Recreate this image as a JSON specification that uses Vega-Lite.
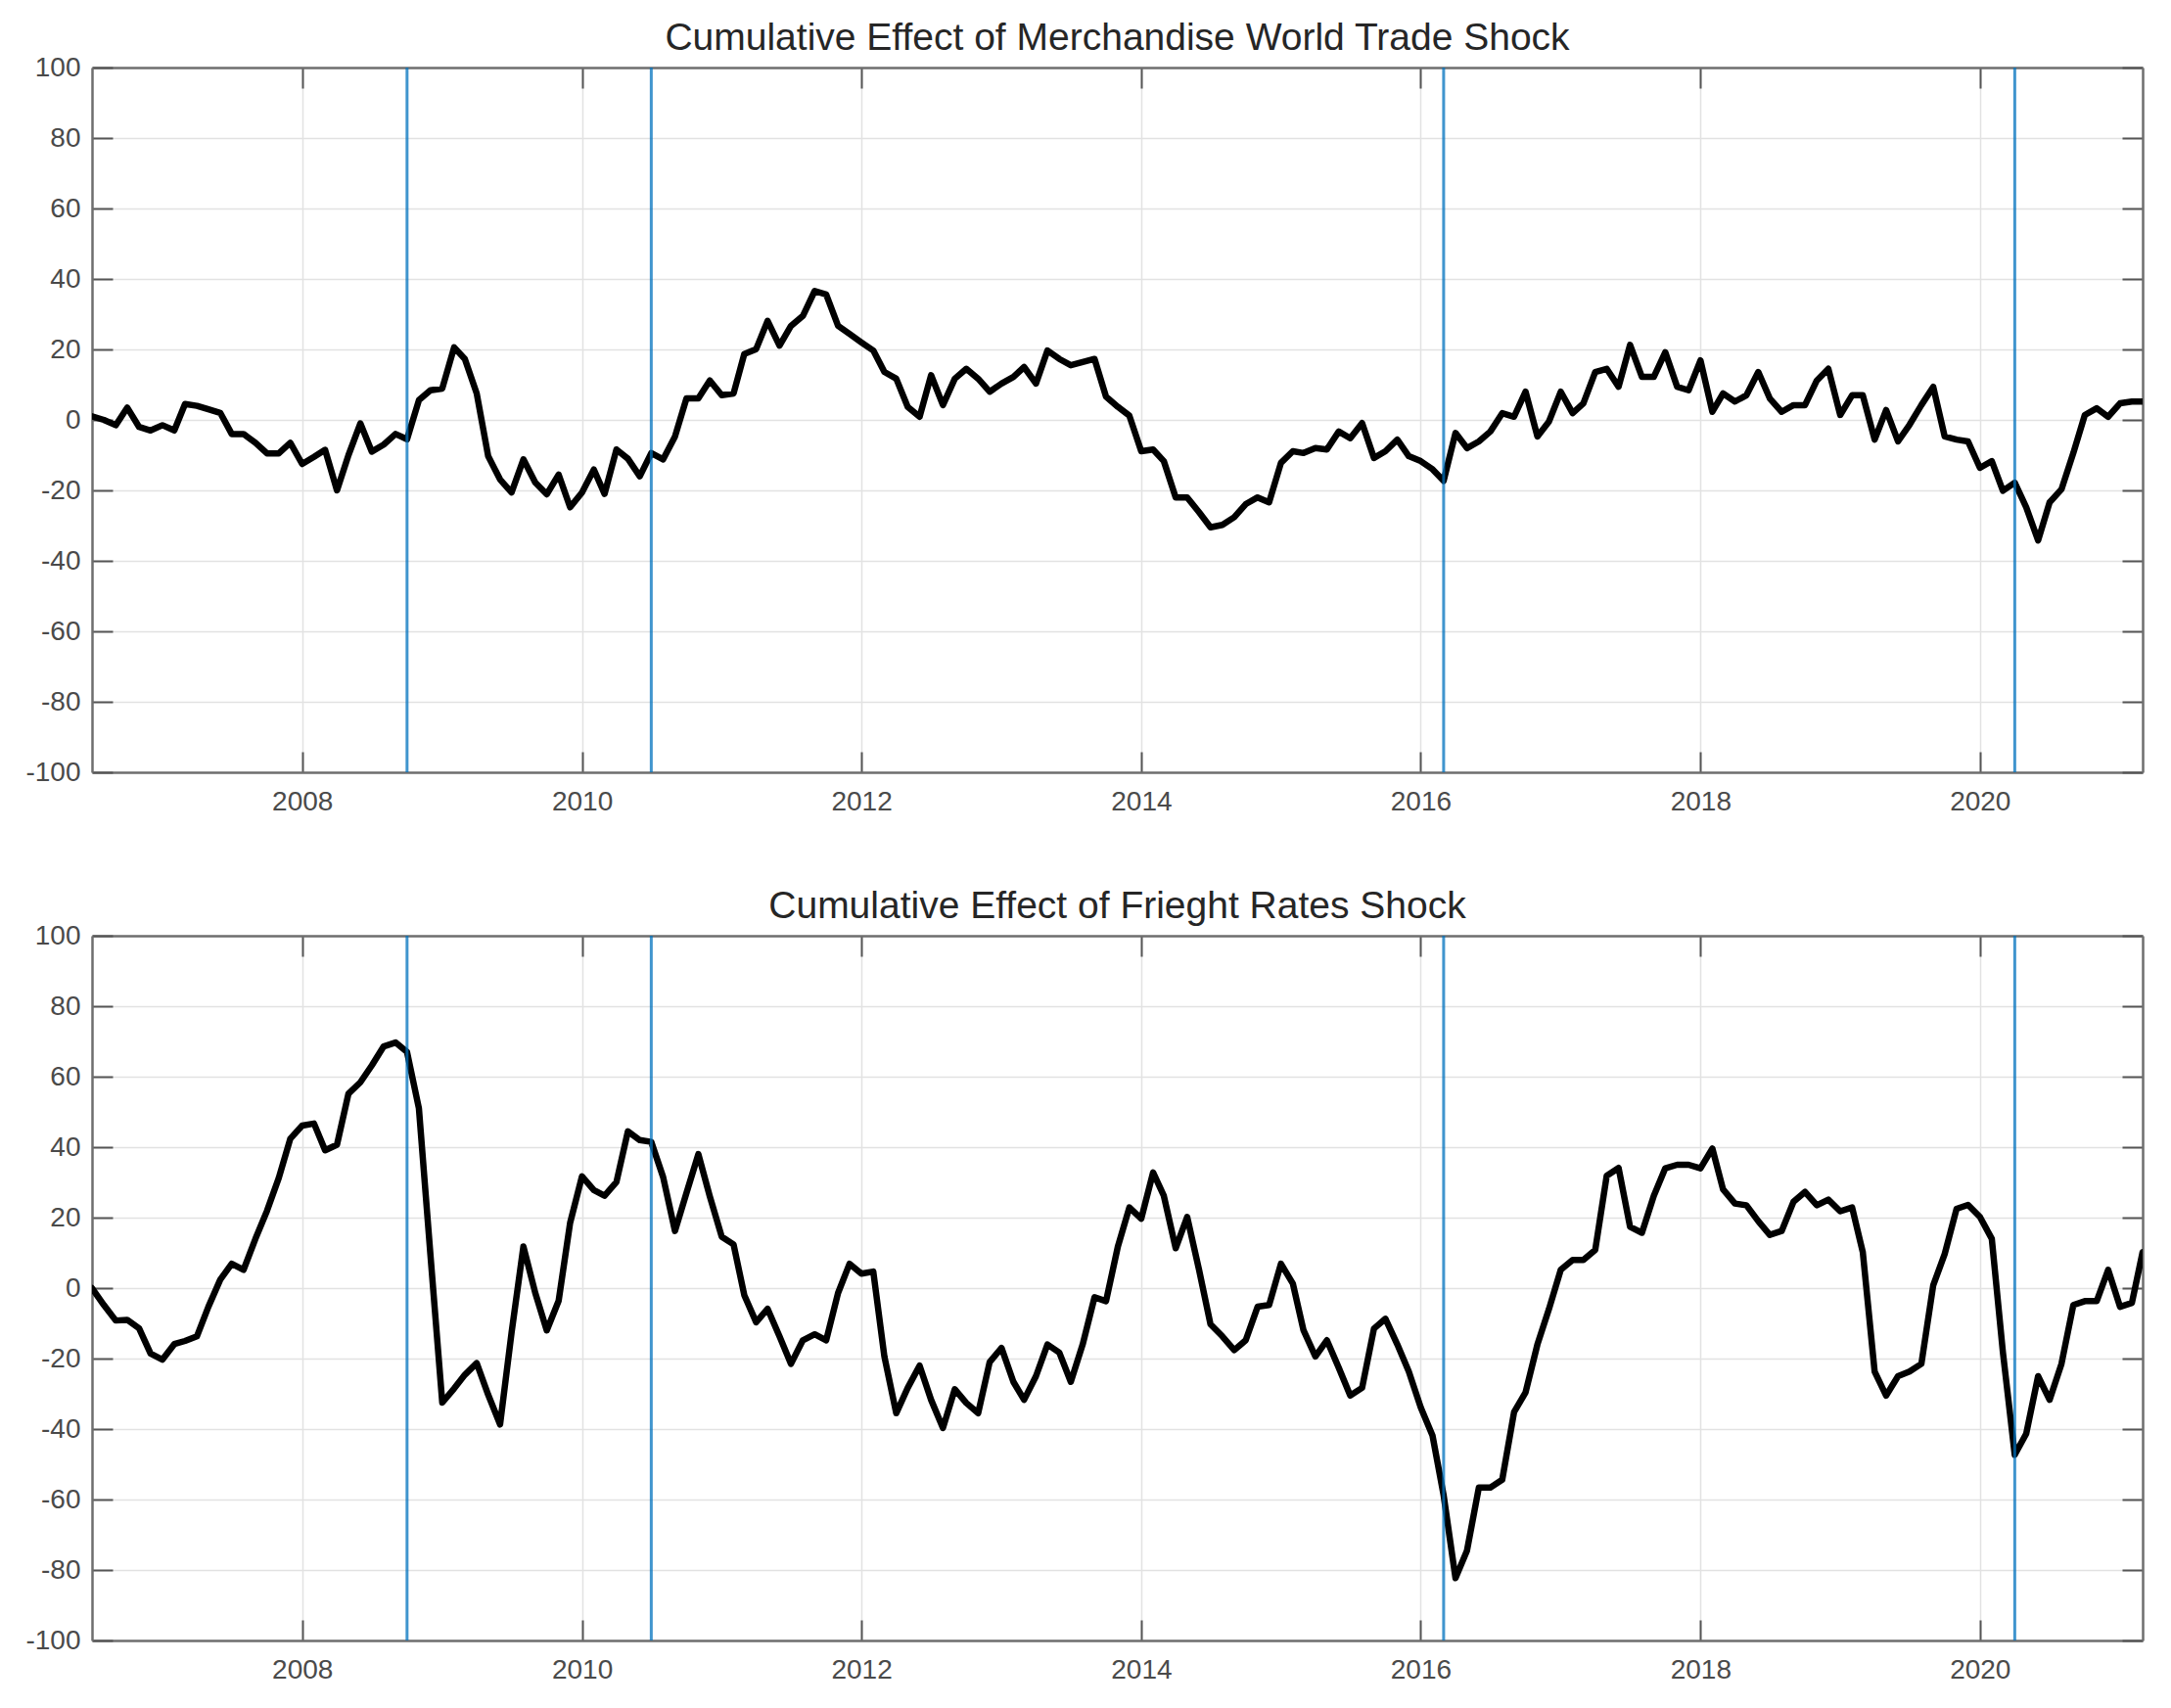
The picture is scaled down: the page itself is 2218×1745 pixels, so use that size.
{
  "$schema": "https://vega.github.io/schema/vega-lite/v6.json",
  "background": "white",
  "padding": {"left": 25, "top": 20, "right": 10, "bottom": 10},
  "datasets": {
    "series": [
      {"date": "2006-07-01", "trade": 1, "freight": 0},
      {"date": "2006-08-01", "trade": 0, "freight": -4.8},
      {"date": "2006-09-01", "trade": -1.5, "freight": -9.2},
      {"date": "2006-10-01", "trade": 3.5, "freight": -9},
      {"date": "2006-11-01", "trade": -2, "freight": -11.4},
      {"date": "2006-12-01", "trade": -3, "freight": -18.6},
      {"date": "2007-01-01", "trade": -1.5, "freight": -20.3},
      {"date": "2007-02-01", "trade": -3, "freight": -15.9},
      {"date": "2007-03-01", "trade": 4.5, "freight": -15},
      {"date": "2007-04-01", "trade": 4, "freight": -13.7},
      {"date": "2007-05-01", "trade": 3, "freight": -5.3},
      {"date": "2007-06-01", "trade": 2, "freight": 2.4},
      {"date": "2007-07-01", "trade": -4, "freight": 6.9},
      {"date": "2007-08-01", "trade": -4, "freight": 5.2},
      {"date": "2007-09-01", "trade": -6.5, "freight": 14},
      {"date": "2007-10-01", "trade": -9.5, "freight": 21.9},
      {"date": "2007-11-01", "trade": -9.5, "freight": 31.3},
      {"date": "2007-12-01", "trade": -6.5, "freight": 42.4},
      {"date": "2008-01-01", "trade": -12.5, "freight": 46.1},
      {"date": "2008-02-01", "trade": -10.5, "freight": 46.7},
      {"date": "2008-03-01", "trade": -8.5, "freight": 39.1},
      {"date": "2008-04-01", "trade": -20, "freight": 40.7},
      {"date": "2008-05-01", "trade": -10, "freight": 55.2},
      {"date": "2008-06-01", "trade": -1, "freight": 58.4},
      {"date": "2008-07-01", "trade": -9, "freight": 63.2},
      {"date": "2008-08-01", "trade": -7, "freight": 68.6},
      {"date": "2008-09-01", "trade": -4, "freight": 69.7},
      {"date": "2008-10-01", "trade": -5.5, "freight": 67},
      {"date": "2008-11-01", "trade": 5.6, "freight": 51},
      {"date": "2008-12-01", "trade": 8.4, "freight": 9.6},
      {"date": "2009-01-01", "trade": 8.9, "freight": -32.5},
      {"date": "2009-02-01", "trade": 20.6, "freight": -28.5},
      {"date": "2009-03-01", "trade": 17.3, "freight": -24.6},
      {"date": "2009-04-01", "trade": 7.5, "freight": -21.3},
      {"date": "2009-05-01", "trade": -10.3, "freight": -30.3},
      {"date": "2009-06-01", "trade": -16.9, "freight": -38.7},
      {"date": "2009-07-01", "trade": -20.6, "freight": -12.7},
      {"date": "2009-08-01", "trade": -11.2, "freight": 11.8},
      {"date": "2009-09-01", "trade": -17.8, "freight": -1.4},
      {"date": "2009-10-01", "trade": -21.1, "freight": -12},
      {"date": "2009-11-01", "trade": -15.5, "freight": -3.6},
      {"date": "2009-12-01", "trade": -24.8, "freight": 18.5},
      {"date": "2010-01-01", "trade": -20.6, "freight": 31.7},
      {"date": "2010-02-01", "trade": -14.1, "freight": 27.8},
      {"date": "2010-03-01", "trade": -21, "freight": 26.2},
      {"date": "2010-04-01", "trade": -8.4, "freight": 30.1},
      {"date": "2010-05-01", "trade": -11, "freight": 44.5},
      {"date": "2010-06-01", "trade": -16, "freight": 42},
      {"date": "2010-07-01", "trade": -9.4, "freight": 41.5},
      {"date": "2010-08-01", "trade": -11.2, "freight": 31.5},
      {"date": "2010-09-01", "trade": -4.7, "freight": 16.2},
      {"date": "2010-10-01", "trade": 6.1, "freight": 27},
      {"date": "2010-11-01", "trade": 6.1, "freight": 38},
      {"date": "2010-12-01", "trade": 11.2, "freight": 26},
      {"date": "2011-01-01", "trade": 7, "freight": 14.6},
      {"date": "2011-02-01", "trade": 7.5, "freight": 12.4},
      {"date": "2011-03-01", "trade": 18.7, "freight": -2},
      {"date": "2011-04-01", "trade": 20.1, "freight": -9.7},
      {"date": "2011-05-01", "trade": 28.1, "freight": -5.9},
      {"date": "2011-06-01", "trade": 21.1, "freight": -13.7},
      {"date": "2011-07-01", "trade": 26.7, "freight": -21.5},
      {"date": "2011-08-01", "trade": 29.5, "freight": -14.8},
      {"date": "2011-09-01", "trade": 36.6, "freight": -13.1},
      {"date": "2011-10-01", "trade": 35.6, "freight": -14.8},
      {"date": "2011-11-01", "trade": 26.7, "freight": -1.4},
      {"date": "2011-12-01", "trade": 24.4, "freight": 6.9},
      {"date": "2012-01-01", "trade": 22, "freight": 4.1},
      {"date": "2012-02-01", "trade": 19.7, "freight": 4.7},
      {"date": "2012-03-01", "trade": 13.6, "freight": -19.4},
      {"date": "2012-04-01", "trade": 11.7, "freight": -35.5},
      {"date": "2012-05-01", "trade": 3.7, "freight": -28.3},
      {"date": "2012-06-01", "trade": 0.9, "freight": -22},
      {"date": "2012-07-01", "trade": 12.7, "freight": -31.7},
      {"date": "2012-08-01", "trade": 4.2, "freight": -39.7},
      {"date": "2012-09-01", "trade": 11.7, "freight": -28.7},
      {"date": "2012-10-01", "trade": 14.5, "freight": -32.6},
      {"date": "2012-11-01", "trade": 11.7, "freight": -35.5},
      {"date": "2012-12-01", "trade": 8, "freight": -21},
      {"date": "2013-01-01", "trade": 10.3, "freight": -17},
      {"date": "2013-02-01", "trade": 12.2, "freight": -26.6},
      {"date": "2013-03-01", "trade": 15, "freight": -31.7},
      {"date": "2013-04-01", "trade": 10.3, "freight": -25},
      {"date": "2013-05-01", "trade": 19.7, "freight": -16},
      {"date": "2013-06-01", "trade": 17.3, "freight": -18.3},
      {"date": "2013-07-01", "trade": 15.5, "freight": -26.6},
      {"date": "2013-08-01", "trade": 16.4, "freight": -16},
      {"date": "2013-09-01", "trade": 17.3, "freight": -2.6},
      {"date": "2013-10-01", "trade": 6.6, "freight": -3.7},
      {"date": "2013-11-01", "trade": 3.7, "freight": 11.8},
      {"date": "2013-12-01", "trade": 1.2, "freight": 22.9},
      {"date": "2014-01-01", "trade": -8.9, "freight": 19.7},
      {"date": "2014-02-01", "trade": -8.4, "freight": 32.8},
      {"date": "2014-03-01", "trade": -11.7, "freight": 26.2},
      {"date": "2014-04-01", "trade": -22, "freight": 11.3},
      {"date": "2014-05-01", "trade": -22, "freight": 20.2},
      {"date": "2014-06-01", "trade": -26.2, "freight": 5.2},
      {"date": "2014-07-01", "trade": -30.5, "freight": -10.3},
      {"date": "2014-08-01", "trade": -29.8, "freight": -13.7},
      {"date": "2014-09-01", "trade": -27.6, "freight": -17.6},
      {"date": "2014-10-01", "trade": -23.9, "freight": -14.8},
      {"date": "2014-11-01", "trade": -22, "freight": -5.3},
      {"date": "2014-12-01", "trade": -23.4, "freight": -4.8},
      {"date": "2015-01-01", "trade": -12.2, "freight": 6.9},
      {"date": "2015-02-01", "trade": -8.9, "freight": 1.3},
      {"date": "2015-03-01", "trade": -9.4, "freight": -12},
      {"date": "2015-04-01", "trade": -8, "freight": -19.4},
      {"date": "2015-05-01", "trade": -8.4, "freight": -14.8},
      {"date": "2015-06-01", "trade": -3.3, "freight": -22.6},
      {"date": "2015-07-01", "trade": -5.2, "freight": -30.5},
      {"date": "2015-08-01", "trade": -0.9, "freight": -28.3},
      {"date": "2015-09-01", "trade": -10.8, "freight": -11.5},
      {"date": "2015-10-01", "trade": -8.9, "freight": -8.7},
      {"date": "2015-11-01", "trade": -5.6, "freight": -16},
      {"date": "2015-12-01", "trade": -10.3, "freight": -23.7},
      {"date": "2016-01-01", "trade": -11.7, "freight": -33.8},
      {"date": "2016-02-01", "trade": -14, "freight": -41.9},
      {"date": "2016-03-01", "trade": -17.3, "freight": -58.8},
      {"date": "2016-04-01", "trade": -3.7, "freight": -82.3},
      {"date": "2016-05-01", "trade": -8, "freight": -74.5},
      {"date": "2016-06-01", "trade": -6.1, "freight": -56.6},
      {"date": "2016-07-01", "trade": -3.3, "freight": -56.6},
      {"date": "2016-08-01", "trade": 1.9, "freight": -54.4},
      {"date": "2016-09-01", "trade": 0.9, "freight": -35.2},
      {"date": "2016-10-01", "trade": 8, "freight": -29.6},
      {"date": "2016-11-01", "trade": -4.7, "freight": -16},
      {"date": "2016-12-01", "trade": -0.5, "freight": -6},
      {"date": "2017-01-01", "trade": 8, "freight": 5.2},
      {"date": "2017-02-01", "trade": 1.9, "freight": 8},
      {"date": "2017-03-01", "trade": 4.7, "freight": 8},
      {"date": "2017-04-01", "trade": 13.6, "freight": 10.8},
      {"date": "2017-05-01", "trade": 14.5, "freight": 31.9},
      {"date": "2017-06-01", "trade": 9.4, "freight": 34.1},
      {"date": "2017-07-01", "trade": 21.3, "freight": 17.4},
      {"date": "2017-08-01", "trade": 12.2, "freight": 15.7},
      {"date": "2017-09-01", "trade": 12.2, "freight": 26.2},
      {"date": "2017-10-01", "trade": 19.2, "freight": 34},
      {"date": "2017-11-01", "trade": 9.4, "freight": 35},
      {"date": "2017-12-01", "trade": 8.4, "freight": 35},
      {"date": "2018-01-01", "trade": 16.9, "freight": 34},
      {"date": "2018-02-01", "trade": 2.3, "freight": 39.6},
      {"date": "2018-03-01", "trade": 7.5, "freight": 28},
      {"date": "2018-04-01", "trade": 5.2, "freight": 24},
      {"date": "2018-05-01", "trade": 7, "freight": 23.5},
      {"date": "2018-06-01", "trade": 13.6, "freight": 19},
      {"date": "2018-07-01", "trade": 6.1, "freight": 15.1},
      {"date": "2018-08-01", "trade": 2.3, "freight": 16.2},
      {"date": "2018-09-01", "trade": 4.2, "freight": 24.5},
      {"date": "2018-10-01", "trade": 4.2, "freight": 27.3},
      {"date": "2018-11-01", "trade": 11.2, "freight": 23.5},
      {"date": "2018-12-01", "trade": 14.5, "freight": 25.1},
      {"date": "2019-01-01", "trade": 1.4, "freight": 21.8},
      {"date": "2019-02-01", "trade": 7, "freight": 22.9},
      {"date": "2019-03-01", "trade": 7, "freight": 10.2},
      {"date": "2019-04-01", "trade": -5.6, "freight": -23.7},
      {"date": "2019-05-01", "trade": 2.8, "freight": -30.5},
      {"date": "2019-06-01", "trade": -6.1, "freight": -25},
      {"date": "2019-07-01", "trade": -1.4, "freight": -23.7},
      {"date": "2019-08-01", "trade": 4.2, "freight": -21.5},
      {"date": "2019-09-01", "trade": 9.4, "freight": 0.8},
      {"date": "2019-10-01", "trade": -4.7, "freight": 9.7},
      {"date": "2019-11-01", "trade": -5.6, "freight": 22.5},
      {"date": "2019-12-01", "trade": -6.1, "freight": 23.6},
      {"date": "2020-01-01", "trade": -13.6, "freight": 20.2},
      {"date": "2020-02-01", "trade": -11.7, "freight": 14},
      {"date": "2020-03-01", "trade": -20.1, "freight": -18.2},
      {"date": "2020-04-01", "trade": -17.8, "freight": -47.3},
      {"date": "2020-05-01", "trade": -24.8, "freight": -41.3},
      {"date": "2020-06-01", "trade": -34.2, "freight": -25},
      {"date": "2020-07-01", "trade": -23.4, "freight": -31.7},
      {"date": "2020-08-01", "trade": -19.7, "freight": -21.5},
      {"date": "2020-09-01", "trade": -9.4, "freight": -4.8},
      {"date": "2020-10-01", "trade": 1.4, "freight": -3.7},
      {"date": "2020-11-01", "trade": 3.3, "freight": -3.7},
      {"date": "2020-12-01", "trade": 0.9, "freight": 5.2},
      {"date": "2021-01-01", "trade": 4.7, "freight": -5.3},
      {"date": "2021-02-01", "trade": 5.2, "freight": -4.2},
      {"date": "2021-03-01", "trade": 5.2, "freight": 10.2}
    ],
    "events": [
      {"date": "2008-10-01"},
      {"date": "2010-07-01"},
      {"date": "2016-03-01"},
      {"date": "2020-04-01"}
    ]
  },
  "spacing": 74,
  "vconcat": [
    {
      "width": 2095,
      "height": 720,
      "title": {"text": "Cumulative Effect of Merchandise World Trade Shock"},
      "layer": [
        {
          "data": {"name": "series"},
          "mark": {"type": "line", "color": "#000000", "strokeWidth": 6.5, "strokeJoin": "round", "strokeCap": "round", "clip": true},
          "encoding": {
            "x": {"field": "date", "type": "temporal",
              "scale": {"type": "utc", "nice": false, "domain": [{"year": 2006, "month": 7, "date": 1, "utc": true}, {"year": 2021, "month": 3, "date": 1, "utc": true}]},
              "axis": {"orient": "bottom", "title": null, "format": "%Y", "grid": true, "labelFlush": false, "labelOverlap": false, "labelPadding": 37,
                "values": [{"year": 2008, "utc": true}, {"year": 2010, "utc": true}, {"year": 2012, "utc": true}, {"year": 2014, "utc": true}, {"year": 2016, "utc": true}, {"year": 2018, "utc": true}, {"year": 2020, "utc": true}]}},
            "y": {"field": "trade", "type": "quantitative",
              "scale": {"domain": [-100, 100], "nice": false, "zero": false},
              "axis": {"orient": "left", "title": null, "grid": true, "labelExpr": "datum.value + ''", "labelPadding": 33,
                "values": [-100, -80, -60, -40, -20, 0, 20, 40, 60, 80, 100],
                "gridOpacity": {"condition": {"test": "abs(datum.value) == 100", "value": 0}, "value": 1}}}
          }
        },
        {
          "data": {"name": "events"},
          "mark": {"type": "rule", "color": "#0072BD", "opacity": 0.75, "strokeWidth": 3},
          "encoding": {
            "x": {"field": "date", "type": "temporal",
              "axis": {"orient": "top", "title": null, "labels": false, "grid": false,
                "values": [{"year": 2008, "utc": true}, {"year": 2010, "utc": true}, {"year": 2012, "utc": true}, {"year": 2014, "utc": true}, {"year": 2016, "utc": true}, {"year": 2018, "utc": true}, {"year": 2020, "utc": true}]}}
          }
        },
        {
          "data": {"name": "series"},
          "mark": {"type": "line", "opacity": 0},
          "encoding": {
            "x": {"field": "date", "type": "temporal", "axis": null},
            "y": {"field": "trade", "type": "quantitative",
              "axis": {"orient": "right", "title": null, "labels": false, "grid": false,
                "values": [-100, -80, -60, -40, -20, 0, 20, 40, 60, 80, 100]}}
          }
        }
      ],
      "resolve": {"axis": {"x": "independent", "y": "independent"}}
    },
    {
      "width": 2095,
      "height": 720,
      "title": {"text": "Cumulative Effect of Frieght Rates Shock"},
      "layer": [
        {
          "data": {"name": "series"},
          "mark": {"type": "line", "color": "#000000", "strokeWidth": 6.5, "strokeJoin": "round", "strokeCap": "round", "clip": true},
          "encoding": {
            "x": {"field": "date", "type": "temporal",
              "scale": {"type": "utc", "nice": false, "domain": [{"year": 2006, "month": 7, "date": 1, "utc": true}, {"year": 2021, "month": 3, "date": 1, "utc": true}]},
              "axis": {"orient": "bottom", "title": null, "format": "%Y", "grid": true, "labelFlush": false, "labelOverlap": false, "labelPadding": 37,
                "values": [{"year": 2008, "utc": true}, {"year": 2010, "utc": true}, {"year": 2012, "utc": true}, {"year": 2014, "utc": true}, {"year": 2016, "utc": true}, {"year": 2018, "utc": true}, {"year": 2020, "utc": true}]}},
            "y": {"field": "freight", "type": "quantitative",
              "scale": {"domain": [-100, 100], "nice": false, "zero": false},
              "axis": {"orient": "left", "title": null, "grid": true, "labelExpr": "datum.value + ''", "labelPadding": 33,
                "values": [-100, -80, -60, -40, -20, 0, 20, 40, 60, 80, 100],
                "gridOpacity": {"condition": {"test": "abs(datum.value) == 100", "value": 0}, "value": 1}}}
          }
        },
        {
          "data": {"name": "events"},
          "mark": {"type": "rule", "color": "#0072BD", "opacity": 0.75, "strokeWidth": 3},
          "encoding": {
            "x": {"field": "date", "type": "temporal",
              "axis": {"orient": "top", "title": null, "labels": false, "grid": false,
                "values": [{"year": 2008, "utc": true}, {"year": 2010, "utc": true}, {"year": 2012, "utc": true}, {"year": 2014, "utc": true}, {"year": 2016, "utc": true}, {"year": 2018, "utc": true}, {"year": 2020, "utc": true}]}}
          }
        },
        {
          "data": {"name": "series"},
          "mark": {"type": "line", "opacity": 0},
          "encoding": {
            "x": {"field": "date", "type": "temporal", "axis": null},
            "y": {"field": "freight", "type": "quantitative",
              "axis": {"orient": "right", "title": null, "labels": false, "grid": false,
                "values": [-100, -80, -60, -40, -20, 0, 20, 40, 60, 80, 100]}}
          }
        }
      ],
      "resolve": {"axis": {"x": "independent", "y": "independent"}}
    }
  ],
  "config": {
    "font": "Liberation Sans",
    "view": {"stroke": null},
    "axis": {
      "labelFont": "Liberation Sans",
      "labelFontSize": 28,
      "labelColor": "#4a4a4a",
      "gridColor": "#e2e2e2",
      "gridWidth": 1.5,
      "domainColor": "#6e6e6e",
      "domainWidth": 2.5,
      "tickColor": "#555555",
      "tickWidth": 2,
      "tickSize": -21
    },
    "title": {
      "font": "Liberation Sans",
      "fontSize": 39,
      "fontWeight": "normal",
      "color": "#262626",
      "anchor": "middle",
      "offset": -4
    }
  }
}
